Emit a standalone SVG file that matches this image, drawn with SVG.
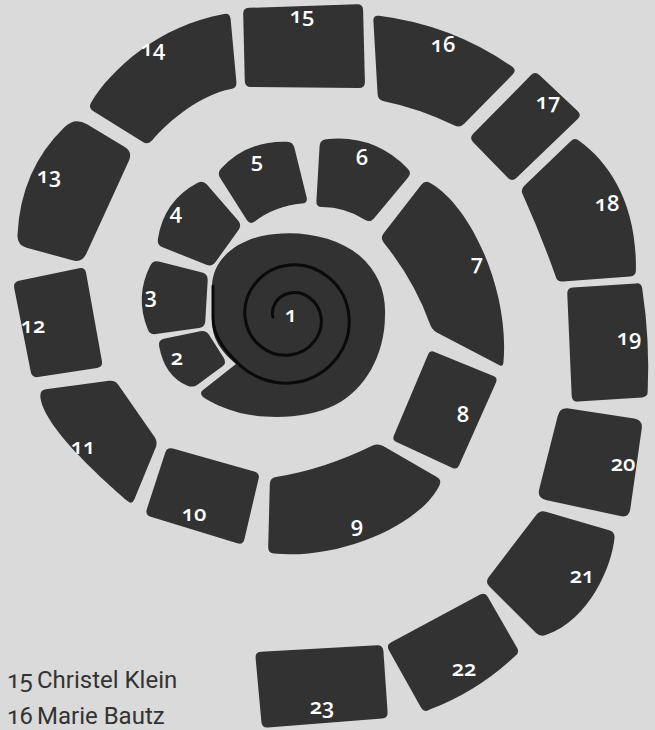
<svg xmlns="http://www.w3.org/2000/svg" width="655" height="730" viewBox="0 0 655 730">
<style>
.tile{fill:#323232}
.lbl{fill:#ffffff;font-family:"Open Sans","Noto Sans",sans-serif;font-weight:600;font-size:22px;text-anchor:middle;font-variant-numeric:oldstyle-nums}
.legend{fill:#333333;font-family:Roboto,"Open Sans",sans-serif;font-size:24px;font-variant-numeric:oldstyle-nums}
.spiral{fill:none;stroke:#0a0a0a;stroke-width:3;stroke-linecap:round;stroke-linejoin:round}
</style>
<rect x="0" y="0" width="655" height="730" fill="#dadada"/>
<g id="node-1">
<path class="tile" d="M212,287 C212,262 232,243 262,236 C295,229 335,235 360,256 C378,272 386,292 385,315 C385,355 365,390 335,405 C310,418 270,420 240,413 C225,409 210,402 203,397 Q199,393 203,390 L236,364 C222,352 212,340 212,320 Z"/>
<path class="spiral" d="M273,317 C270.5,307.6 276.8,295.5 290,293 C303.2,290.5 318.5,300 321,317 C323.5,334 310.9,352.5 290,355 C269.1,357.5 247.5,341.8 245,317 C242.5,292.3 261.4,267.5 290,265 C318.6,262.6 346.5,284.6 349,317 C351.5,349.5 326.3,380.6 290,383 C272.7,384.2 254.6,378.1 240.9,366.1 C228,354 213,338 213,318 L213,286"/>
<text class="lbl" x="291" y="322">1</text>
</g>
<g id="node-2">
<path class="tile" d="M163.9,338.8 L200.1,331.2 Q206,330 209.2,335.1 L223.8,357.9 Q227,363 222.2,366.6 L197.8,384.4 Q193,388 187.5,385.7 Q164.5,376 159.1,345.9 Q158,340 163.9,338.8 Z"/>
<text class="lbl" x="177" y="365">2</text>
</g>
<g id="node-3">
<path class="tile" d="M158.8,261.5 L202.2,272.5 Q208,274 207.7,280 L205.3,321 Q205,327 199.1,327.9 L155.9,334.1 Q150,335 147.8,329.4 Q134.5,296.5 150.3,265.4 Q153,260 158.8,261.5 Z"/>
<text class="lbl" x="151" y="303">3</text>
</g>
<g id="node-4">
<path class="tile" d="M206.9,184.5 L238.1,220.5 Q242,225 238.5,229.9 L215.5,262.1 Q212,267 206.4,264.8 L162.6,247.2 Q157,245 157.9,239.1 Q163.6,200.9 197.7,182.8 Q203,180 206.9,184.5 Z"/>
<text class="lbl" x="176" y="219">4</text>
</g>
<g id="node-5">
<path class="tile" d="M221.1,168.6 Q247,140.5 287,141.8 Q293,142 294.4,147.8 L306.6,197.2 Q308,203 302,203.5 Q275,206 254.8,221.4 Q250,225 246.8,219.9 L220.2,178.1 Q217,173 221.1,168.6 Z"/>
<text class="lbl" x="257" y="168">5</text>
</g>
<g id="node-6">
<path class="tile" d="M326,139.3 Q374,133.9 407.8,168.7 Q412,173 408.1,177.6 L373.9,218.4 Q370,223 364.9,219.8 Q345.2,207.3 322,207.1 Q316,207 316.4,201 L319.6,146 Q320,140 326,139.3 Z"/>
<text class="lbl" x="362" y="165">6</text>
</g>
<g id="node-7">
<path class="tile" d="M430.2,182.9 C470,205 510,290 503.4,363 Q503,367 499.5,365.2 L437.3,332.8 Q432,330 430,324.3 Q414.7,281.1 383.8,242.7 Q380,238 383.7,233.3 L421.3,184.7 Q425,180 430.2,182.9 Z"/>
<text class="lbl" x="477" y="270">7</text>
</g>
<g id="node-8">
<path class="tile" d="M434.6,351.9 L493.4,376.1 Q498,378 496,382.6 L459,465.4 Q457,470 452.5,467.9 L396.5,442.1 Q392,440 393.9,435.4 L428.1,354.6 Q430,350 434.6,351.9 Z"/>
<text class="lbl" x="463" y="422">8</text>
</g>
<g id="node-9">
<path class="tile" d="M275.9,477.1 Q324,469.5 372.6,445.6 Q378,443 383.2,446 L436.8,477 Q442,480 439.4,485.4 C420,525 340,560 274,553.6 Q268,553 268.2,547 L269.8,484 Q270,478 275.9,477.1 Z"/>
<text class="lbl" x="357" y="532">9</text>
</g>
<g id="node-10">
<path class="tile" d="M172.8,448.6 L254.2,471.4 Q260,473 258.6,478.8 L244.4,539.2 Q243,545 237.3,543.2 L150.7,516.8 Q145,515 146.8,509.3 L165.2,452.7 Q167,447 172.8,448.6 Z"/>
<text class="lbl" x="194" y="521">10</text>
</g>
<g id="node-11">
<path class="tile" d="M45.9,389.2 L109.1,380.8 Q115,380 118.4,384.9 L154.6,437.1 Q158,442 155.7,447.5 L134.3,499.5 Q132,505 127.5,501.1 C102,479 41.8,425 40.3,396 Q40,390 45.9,389.2 Z"/>
<text class="lbl" x="83" y="454">11</text>
</g>
<g id="node-12">
<path class="tile" d="M18.9,280.8 L79.1,268.2 Q85,267 86.1,272.9 L101.9,361.1 Q103,367 97.1,367.9 L37.9,377.1 Q32,378 30.8,372.1 L14.2,287.9 Q13,282 18.9,280.8 Z"/>
<text class="lbl" x="33" y="333">12</text>
</g>
<g id="node-13">
<path class="tile" d="M87,124.2 L124.4,146.8 Q133,152 128.8,161.1 L86.2,253.9 Q82,263 72.4,260.3 L26.6,247.7 Q17,245 17.5,235 Q20.5,169.4 64.9,126.7 Q75,117 87,124.2 Z"/>
<text class="lbl" x="49" y="183">13</text>
</g>
<g id="node-14">
<path class="tile" d="M91,102.8 C110,70 160,25 224.1,14 Q230,13 230.6,19 L236.4,82 Q237,88 231.1,89.1 C200,95 170,120 152,140.5 Q148,145 142.9,141.9 L93.1,111.1 Q88,108 91,102.8 Z"/>
<text class="lbl" x="153" y="56">14</text>
</g>
<g id="node-15">
<path class="tile" d="M249,7.8 L357,4.2 Q363,4 363.1,10 L364.9,82 Q365,88 359,88 L251,87 Q245,87 244.8,81 L243.2,14 Q243,8 249,7.8 Z"/>
<text class="lbl" x="302" y="23">15</text>
</g>
<g id="node-16">
<path class="tile" d="M379,15.7 Q451.8,24.7 512.1,66.6 Q517,70 512.8,74.3 L464.2,123.7 Q460,128 454.6,125.4 Q418,108 383.9,101.2 Q378,100 377.6,94 L373.4,21 Q373,15 379,15.7 Z"/>
<text class="lbl" x="443" y="52">16</text>
</g>
<g id="node-17">
<path class="tile" d="M539.4,75.1 L577.6,110.9 Q582,115 577.7,119.1 L516.3,177.9 Q512,182 507.8,177.7 L473.2,142.3 Q469,138 473.2,133.7 L530.8,75.3 Q535,71 539.4,75.1 Z"/>
<text class="lbl" x="548" y="109">17</text>
</g>
<g id="node-18">
<path class="tile" d="M579.4,141.1 C610,163 637,205 635.9,270 Q636,276 630,276.5 L563,281.5 Q557,282 555.6,276.2 Q541,235 523.1,195.2 Q520,190 524.3,185.8 L570.7,141.2 Q575,137 579.4,141.1 Z"/>
<text class="lbl" x="607" y="211">18</text>
</g>
<g id="node-19">
<path class="tile" d="M573,287.6 L636,283.4 Q642,283 642.3,289 Q650,340 647.7,391 Q648,397 642,397.4 L578,401.6 Q572,402 571.7,396 L567.3,294 Q567,288 573,287.6 Z"/>
<text class="lbl" x="629" y="345">19</text>
</g>
<g id="node-20">
<path class="tile" d="M568.9,408.4 L634.1,418.6 Q643,420 641.7,428.9 L630.3,509.1 Q629,518 620.2,516.1 L545.8,499.9 Q537,498 539.2,489.3 L557.8,415.7 Q560,407 568.9,408.4 Z"/>
<text class="lbl" x="623" y="471">20</text>
</g>
<g id="node-21">
<path class="tile" d="M545.8,511.7 L609.2,530.3 Q615,532 614.5,538 C612,565 590,620 545.7,635.1 Q540,637 535.8,632.8 L489.2,586.2 Q485,582 488.6,577.2 L536.4,514.8 Q540,510 545.8,511.7 Z"/>
<text class="lbl" x="582" y="583">21</text>
</g>
<g id="node-22">
<path class="tile" d="M488,597.2 L517,647.8 Q520,653 514.9,656.2 Q477.3,691.5 429.1,709.8 Q424,713 421.1,707.8 L388.9,650.2 Q386,645 391.3,642.2 L479.7,594.8 Q485,592 488,597.2 Z"/>
<text class="lbl" x="464" y="676">22</text>
</g>
<g id="node-23">
<path class="tile" d="M261,651.7 L377,645.3 Q383,645 383.4,651 L387.6,712 Q388,718 382,718.5 L268,727.5 Q262,728 261.4,722 L255.6,658 Q255,652 261,651.7 Z"/>
<text class="lbl" x="322" y="714">23</text>
</g>
<g id="legend">
<text class="legend" x="6" y="688">15</text>
<text class="legend" x="37" y="688">Christel Klein</text>
<text class="legend" x="6" y="724">16</text>
<text class="legend" x="37" y="724">Marie Bautz</text>
</g>
</svg>
